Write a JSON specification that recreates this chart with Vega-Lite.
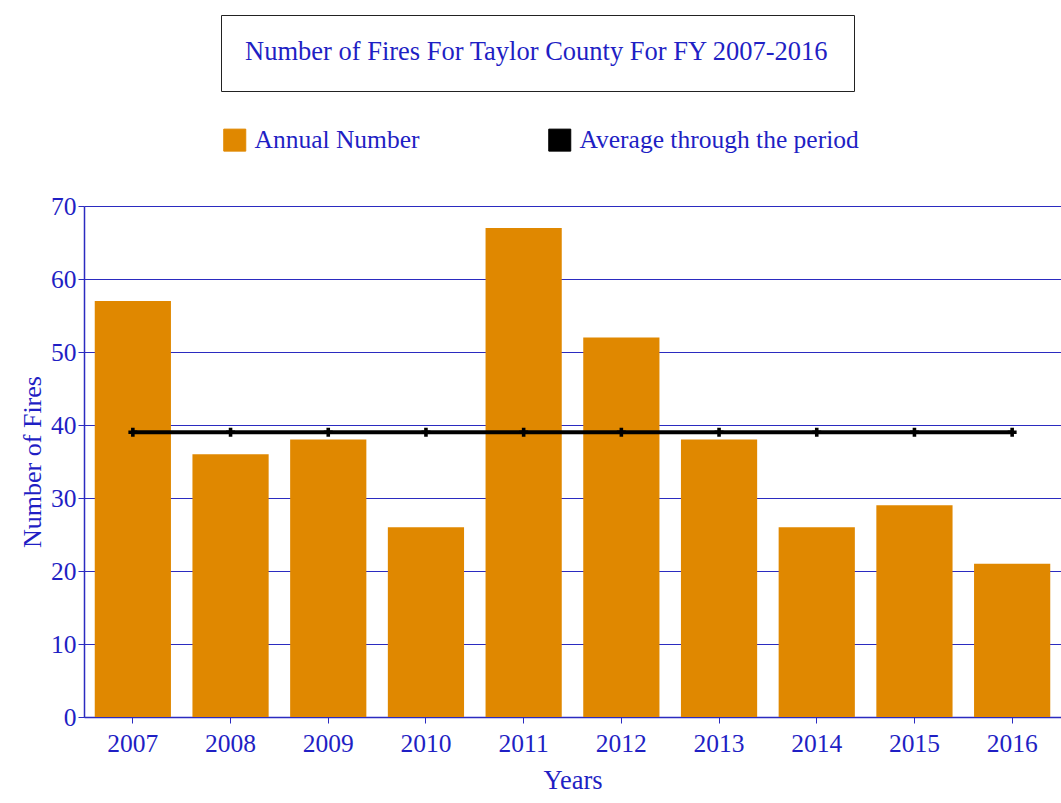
{
  "$schema": "https://vega.github.io/schema/vega-lite/v6.json",
  "width": 977,
  "height": 511,
  "autosize": "none",
  "padding": {"left": 84, "top": 206, "right": 0, "bottom": 86},
  "background": "white",
  "config": {"view": {"stroke": null}, "font": "Liberation Serif"},
  "datasets": {
    "fires": [
      {"year": "2007", "fires": 57, "avg": 39},
      {"year": "2008", "fires": 36, "avg": 39},
      {"year": "2009", "fires": 38, "avg": 39},
      {"year": "2010", "fires": 26, "avg": 39},
      {"year": "2011", "fires": 67, "avg": 39},
      {"year": "2012", "fires": 52, "avg": 39},
      {"year": "2013", "fires": 38, "avg": 39},
      {"year": "2014", "fires": 26, "avg": 39},
      {"year": "2015", "fires": 29, "avg": 39},
      {"year": "2016", "fires": 21, "avg": 39}
    ],
    "heading": [{"t": "Number of Fires For Taylor County For FY 2007-2016"}]
  },
  "encoding": {
    "x": {
      "field": "year", "type": "ordinal", "title": "Years",
      "scale": {"paddingInner": 0.22, "paddingOuter": 0.11},
      "axis": {
        "labelAngle": 0, "bandPosition": 0.5, "tickSize": 6, "labelPadding": 8, "titlePadding": 11,
        "domainColor": "#2B2BC0", "domainWidth": 1.5, "tickColor": "#2B2BC0",
        "labelColor": "#1F1FC4", "labelFont": "Liberation Serif", "labelFontSize": 25.5,
        "titleColor": "#1F1FC4", "titleFont": "Liberation Serif", "titleFontSize": 26.5, "titleFontWeight": "normal",
        "grid": false
      }
    }
  },
  "layer": [
    {
      "data": {"name": "fires"},
      "mark": {"type": "bar"},
      "encoding": {
        "y": {
          "field": "fires", "type": "quantitative", "title": "Number of Fires",
          "scale": {"domain": [0, 70]},
          "axis": {
            "values": [0, 10, 20, 30, 40, 50, 60, 70], "tickSize": 6, "labelPadding": 2, "titlePadding": 5,
            "gridColor": "#2B2BC0", "gridWidth": 1.2, "domainColor": "#2B2BC0", "domainWidth": 1.5, "tickColor": "#2B2BC0",
            "labelColor": "#1F1FC4", "labelFont": "Liberation Serif", "labelFontSize": 25.5,
            "titleColor": "#1F1FC4", "titleFont": "Liberation Serif", "titleFontSize": 26, "titleFontWeight": "normal"
          }
        },
        "color": {
          "datum": "Annual Number", "type": "nominal",
          "scale": {"domain": ["Annual Number", "Average through the period"], "range": ["#E08800", "#000000"]},
          "legend": {
            "orient": "none", "legendX": 138, "legendY": -79, "direction": "horizontal", "title": null,
            "symbolType": "square", "symbolSize": 484, "labelFontSize": 25.5, "labelFont": "Liberation Serif",
            "labelColor": "#1F1FC4", "labelOffset": 7, "columnPadding": 126, "labelLimit": 500, "padding": 0,
            "symbolStrokeWidth": 1,
            "encode": {"symbols": {"update": {"fill": {"scale": "color", "field": "value"}, "fillOpacity": {"value": 1}, "stroke": {"value": "#444444"}}}}
          }
        }
      }
    },
    {
      "data": {"name": "fires"},
      "mark": {"type": "line", "strokeWidth": 4},
      "encoding": {
        "y": {"field": "avg", "type": "quantitative"},
        "color": {"datum": "Average through the period", "type": "nominal"}
      }
    },
    {
      "data": {"name": "fires"},
      "mark": {"type": "point", "shape": "cross", "filled": true, "size": 80, "opacity": 1},
      "encoding": {
        "y": {"field": "avg", "type": "quantitative"},
        "color": {"datum": "Average through the period", "type": "nominal"}
      }
    },
    {
      "data": {"name": "heading"},
      "mark": {"type": "point", "opacity": 0},
      "encoding": {
        "x": {"value": 0},
        "shape": {
          "field": "t", "type": "nominal",
          "legend": {
            "title": "Number of Fires For Taylor County For FY 2007-2016",
            "orient": "none", "legendX": 137, "legendY": -191,
            "titleFontSize": 26.5, "titleFont": "Liberation Serif", "titleFontWeight": "normal", "titleColor": "#1F1FC4",
            "titleLimit": 1000, "titlePadding": 0,
            "strokeColor": "#222222", "fillColor": "white", "padding": 24,
            "symbolSize": 0, "symbolOpacity": 0, "labelExpr": "''", "labelFontSize": 1,
            "encode": {"legend": {"update": {"strokeWidth": {"value": 2}}}}
          }
        }
      }
    }
  ]
}
